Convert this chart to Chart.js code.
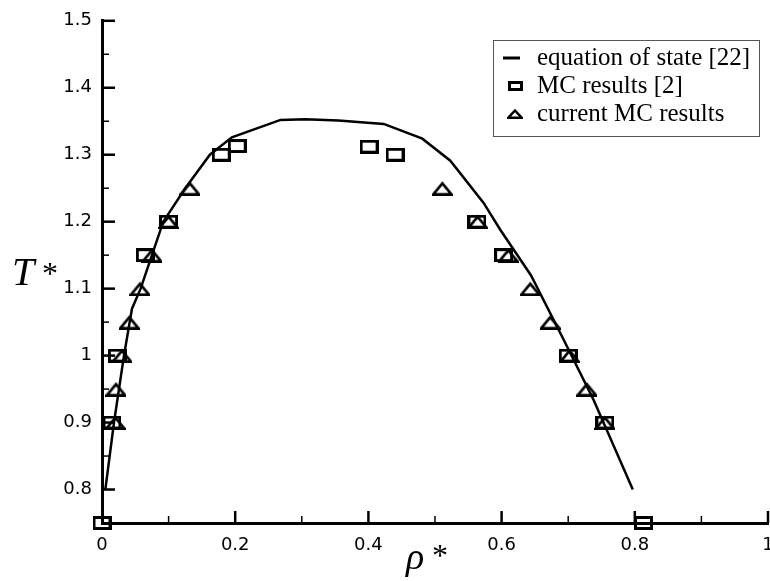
<!DOCTYPE html>
<html>
<head>
<meta charset="utf-8">
<script src="https://cdn.jsdelivr.net/npm/chart.js@4.4.0/dist/chart.umd.min.js"></script>
<style>
html,body{margin:0;background:#fff;overflow:hidden}
#wrap{width:773px;height:581px;position:relative}
</style>
</head>
<body>
<div id="wrap"><canvas id="chart"></canvas></div>
<script>
// equation of state [22]
var eosRho = [0.005, 0.018, 0.033, 0.045, 0.058, 0.092, 0.125, 0.162, 0.195, 0.268, 0.305, 0.355, 0.423, 0.481, 0.523, 0.573, 0.598, 0.644, 0.69, 0.738, 0.797];
var eosT   = [0.8, 0.9, 1.0, 1.07, 1.1, 1.2, 1.25, 1.3, 1.326, 1.352, 1.353, 1.351, 1.346, 1.324, 1.291, 1.228, 1.188, 1.12, 1.03, 0.934, 0.8];
// MC results [2]
var mcRho = [0, 0.015, 0.023, 0.065, 0.1, 0.179, 0.203, 0.401, 0.44, 0.563, 0.603, 0.7, 0.755, 0.813];
var mcT   = [0.75, 0.9, 1.0, 1.15, 1.2, 1.3, 1.313, 1.312, 1.3, 1.2, 1.15, 1.0, 0.9, 0.75];
// current MC results
var curRho = [0.02, 0.021, 0.03, 0.041, 0.057, 0.075, 0.1, 0.132, 0.511, 0.564, 0.61, 0.643, 0.673, 0.702, 0.728, 0.755];
var curT   = [0.9, 0.95, 1.0, 1.05, 1.1, 1.15, 1.2, 1.25, 1.25, 1.2, 1.15, 1.1, 1.05, 1.0, 0.95, 0.9];

var seriesNames = ['equation of state [22]', 'MC results [2]', 'current MC results'];

function pts(xs, ys){
	return xs.map(function(x, i){ return {x: x, y: ys[i]}; });
}

// open marker shapes (drawn on small canvases)
function makeRect(w, h, lw){
	var c = document.createElement('canvas');
	c.width = w; c.height = h;
	var g = c.getContext('2d');
	g.strokeStyle = '#000'; g.lineWidth = lw;
	g.strokeRect(lw/2, lw/2, w - lw, h - lw);
	return c;
}
function makeTri(w, h, lw){
	var c = document.createElement('canvas');
	c.width = w; c.height = h;
	var g = c.getContext('2d');
	g.strokeStyle = '#000'; g.lineWidth = lw; g.lineJoin = 'miter';
	g.beginPath();
	g.moveTo(w/2, lw);
	g.lineTo(w - lw/2, h - lw/2);
	g.lineTo(lw/2, h - lw/2);
	g.closePath();
	g.stroke();
	return c;
}
var rectMark = makeRect(19, 14, 3);
var triMark = makeTri(21, 15, 2.7);
var rectSmall = makeRect(15, 10, 3);
var triSmall = makeTri(16, 11, 2.5);

var extras = {
	id: 'extras',
	afterDraw: function(chart){
		var ctx = chart.ctx, xs = chart.scales.x, ys = chart.scales.y, a = chart.chartArea;
		ctx.save();
		ctx.strokeStyle = '#000';
		// inward ticks
		xs.ticks.forEach(function(t){
			var r = Math.round(t.value * 10);
			if (r === 0) return;
			var major = r % 2 === 0;
			var px = xs.getPixelForValue(t.value);
			ctx.lineWidth = major ? 2.5 : 1.5;
			ctx.beginPath();
			ctx.moveTo(px, a.bottom);
			ctx.lineTo(px, a.bottom - (major ? 12 : 7));
			ctx.stroke();
		});
		ys.ticks.forEach(function(t){
			var r = Math.round(t.value * 100);
			if (r === 75) return;
			var major = r % 10 === 0;
			var py = ys.getPixelForValue(t.value);
			ctx.lineWidth = major ? 2.5 : 1.5;
			ctx.beginPath();
			ctx.moveTo(a.left, py);
			ctx.lineTo(a.left + (major ? 13 : 7), py);
			ctx.stroke();
		});

		// axis titles
		ctx.fillStyle = '#000';
		ctx.textBaseline = 'alphabetic';
		ctx.textAlign = 'left';
		ctx.font = 'italic 40px "Liberation Serif"';
		ctx.fillText('T', 12, 285);
		ctx.font = '32px "Liberation Serif"';
		ctx.fillText('*', 42, 284);
		ctx.font = 'italic 38px "Liberation Serif"';
		ctx.fillText('\u03c1', 406, 569);
		ctx.font = '32px "Liberation Serif"';
		ctx.fillText('*', 432, 566);

		// legend
		ctx.lineWidth = 1;
		ctx.strokeStyle = '#555';
		ctx.strokeRect(493.5, 40.5, 266, 96);
		var rows = [58, 86, 114];
		ctx.strokeStyle = '#000';
		ctx.lineWidth = 3;
		ctx.beginPath();
		ctx.moveTo(503, rows[0]); ctx.lineTo(520, rows[0]);
		ctx.stroke();
		ctx.drawImage(rectSmall, 508, rows[1] - 5);
		ctx.drawImage(triSmall, 507, rows[2] - 6);
		ctx.font = '25px "Liberation Serif"';
		ctx.textBaseline = 'middle';
		seriesNames.forEach(function(n, i){
			ctx.fillText(n, 537, rows[i]);
		});
		ctx.restore();
	}
};

var tickFont = {family: '"DejaVu Sans"', size: 18};

new Chart(document.getElementById('chart'), {
	type: 'scatter',
	data: {
		datasets: [
			{
				label: seriesNames[0],
				data: pts(eosRho, eosT),
				showLine: true,
				borderColor: '#000',
				borderWidth: 2.5,
				pointRadius: 0,
				tension: 0,
				clip: false
			},
			{
				label: seriesNames[1],
				data: pts(mcRho, mcT),
				pointStyle: rectMark,
				clip: false
			},
			{
				label: seriesNames[2],
				data: pts(curRho, curT),
				pointStyle: triMark,
				clip: false
			}
		]
	},
	options: {
		responsive: true,
		maintainAspectRatio: false,
		animation: false,
		layout: {padding: {top: 15, right: 2, left: 0, bottom: 0}},
		plugins: {
			legend: {display: false},
			tooltip: {enabled: false}
		},
		scales: {
			x: {
				type: 'linear',
				min: 0,
				max: 1,
				ticks: {
					stepSize: 0.1,
					autoSkip: false,
					maxRotation: 0,
					padding: 12,
					color: '#000',
					font: tickFont,
					callback: function(v){
						var r = Math.round(v * 10);
						return r % 2 === 0 ? String(r / 10) : '';
					}
				},
				grid: {drawOnChartArea: false, drawTicks: false},
				border: {display: true, color: '#000', width: 3},
				afterFit: function(s){
					s.height = 58;
					s.paddingLeft = 0;
					s.paddingRight = 0;
				}
			},
			y: {
				type: 'linear',
				min: 0.75,
				max: 1.5,
				ticks: {
					stepSize: 0.05,
					autoSkip: false,
					padding: 10,
					color: '#000',
					font: tickFont,
					callback: function(v){
						var r = Math.round(v * 100);
						return (r % 10 === 0) ? String(r / 100) : '';
					}
				},
				grid: {drawOnChartArea: false, drawTicks: false},
				border: {display: true, color: '#000', width: 3},
				afterFit: function(s){
					s.width = 102;
				}
			}
		}
	},
	plugins: [extras]
});
</script>
</body>
</html>
